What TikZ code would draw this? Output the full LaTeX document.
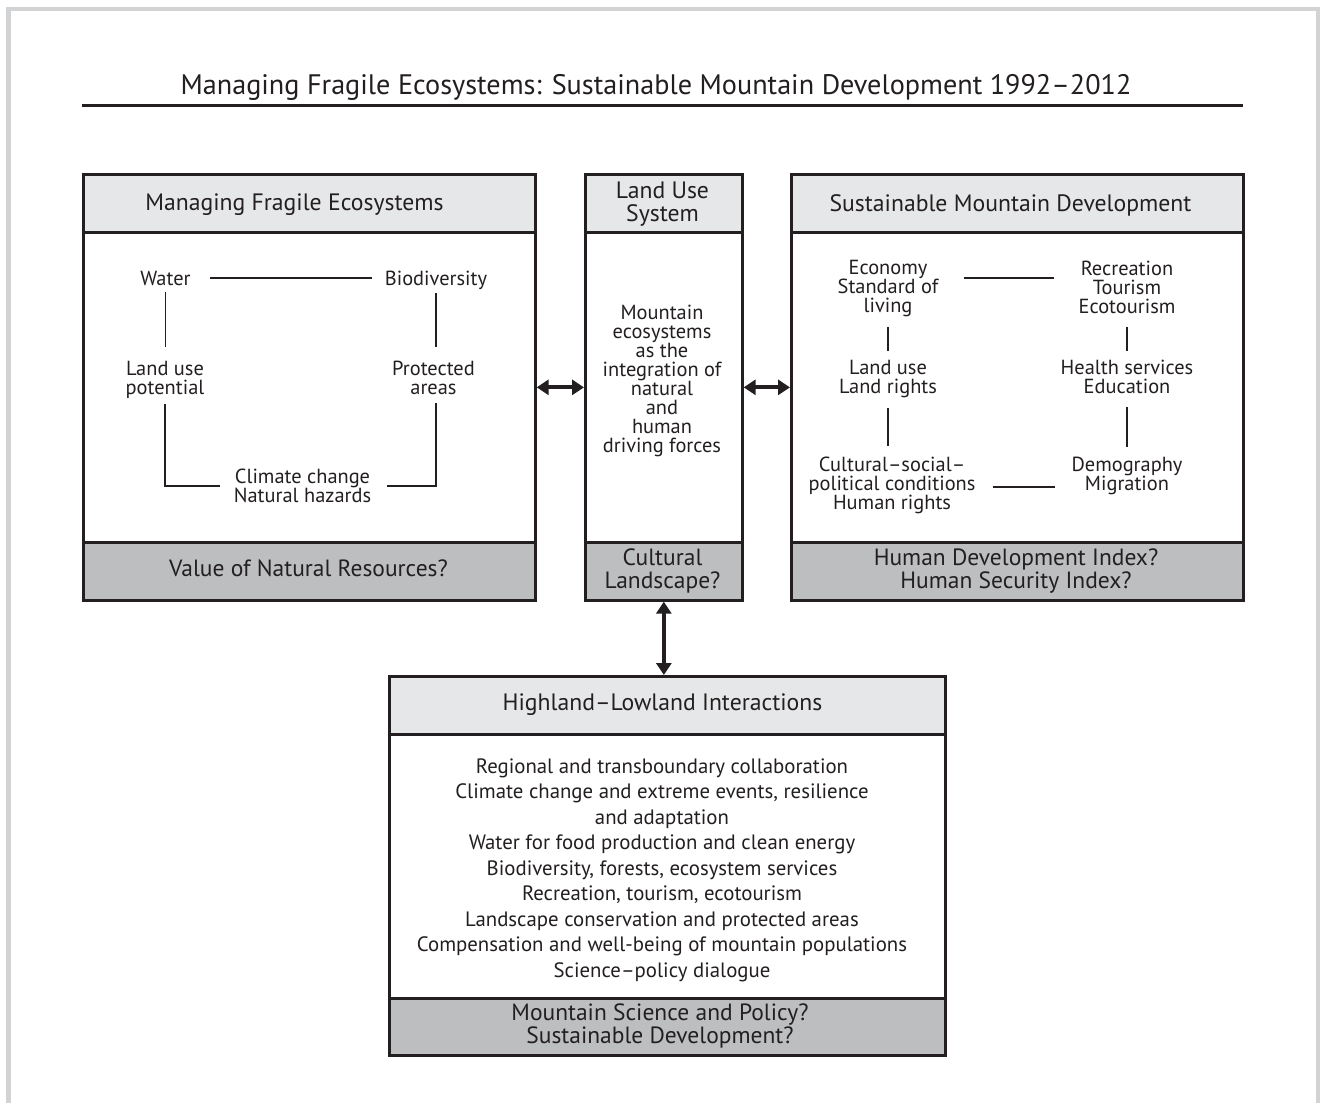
\documentclass[tikz,border=0pt]{standalone}
\usepackage{fontspec}
\setmainfont{PT Sans}
\usetikzlibrary{arrows.meta,calc}
\definecolor{ink}{HTML}{231F20}
\definecolor{hdrgray}{HTML}{E6E7E8}
\definecolor{ftrgray}{HTML}{BCBEC0}
\definecolor{framegray}{HTML}{D1D3D4}
\newcommand\mfTitle{\fontsize{28.2}{30}\selectfont}
\newcommand\mfHdr{\fontsize{23.7}{23.5}\selectfont}
\newcommand\mfFtr{\fontsize{23.5}{23.5}\selectfont}
\newcommand\mfTxt{\fontsize{20.4}{19}\selectfont}
\newcommand\mfList{\fontsize{20.8}{25.5}\selectfont}
\begin{document}
\begin{tikzpicture}[x=1pt,y=-1pt,
  panel/.style={draw=ink, line width=2.7pt, anchor=north west, inner sep=0pt},
  hdr/.style={panel, fill=hdrgray},
  ftr/.style={panel, fill=ftrgray},
  bodybox/.style={panel, fill=white},
  lbl/.style={text=ink, align=center, inner sep=0pt},
  htxt/.style={lbl, font=\mfHdr},
  ftxt/.style={lbl, font=\mfFtr},
  itxt/.style={lbl, font=\mfTxt},
  one/.style={text height=14pt, text depth=0pt},
  conn/.style={draw=ink, line width=1.3pt},
  dbl/.style={draw=ink, line width=3.8pt, {Triangle[length=12pt,width=15pt]}-{Triangle[length=12pt,width=15pt]}}
]
\useasboundingbox (0,0) rectangle (1320,1103);
\fill[white] (0,0) rectangle (1320,1103);
% outer frame
\draw[framegray, line width=4.5pt] (8.5,1200) -- (8.5,9) -- (1318,9) -- (1318,1200);

% title
\node[lbl, font=\mfTitle] (title) at (656,87) {Managing Fragile Ecosystems: Sustainable Mountain Development 1992–2012};
\draw[ink, line width=3.2pt] (82,105.5) -- (1243,105.5);

% left panel
\node[bodybox, minimum width=452pt, minimum height=310pt] (lbody) at (82,231) {};
\node[hdr, minimum width=452pt, minimum height=58pt] (lhead) at (82,173) {};
\node[ftr, minimum width=452pt, minimum height=58pt] (lfoot) at (82,541) {};
\node[htxt] (lhtext) at (294.5,205) {Managing Fragile Ecosystems};
\node[ftxt] (lftext) at (308.5,568) {Value of Natural Resources?};

% middle panel
\node[bodybox, minimum width=157pt, minimum height=310pt] (mbody) at (584,231) {};
\node[hdr, minimum width=157pt, minimum height=58pt] (mhead) at (584,173) {};
\node[ftr, minimum width=157pt, minimum height=58pt] (mfoot) at (584,541) {};
\node[htxt] (mhtext) at (662.5,204) {Land Use\\System};
\node[ftxt] (mftext) at (662.5,571) {Cultural\\Landscape?};
\node[itxt] (mtext) at (662,381) {Mountain\\ecosystems\\as the\\integration of\\natural\\and\\human\\driving forces};

% right panel
\node[bodybox, minimum width=452pt, minimum height=310pt] (rbody) at (790,231) {};
\node[hdr, minimum width=452pt, minimum height=58pt] (rhead) at (790,173) {};
\node[ftr, minimum width=452pt, minimum height=58pt] (rfoot) at (790,541) {};
\node[htxt] (rhtext) at (1010.5,205) {Sustainable Mountain Development};
\node[ftxt] (rftext) at (1016,571) {Human Development Index?\\Human Security Index?};

% bottom panel
\node[bodybox, minimum width=556pt, minimum height=264pt] (bbody) at (388,733) {};
\node[hdr, minimum width=556pt, minimum height=58pt] (bhead) at (388,675) {};
\node[ftr, minimum width=556pt, minimum height=57pt] (bfoot) at (388,997) {};
\node[htxt] (bhtext) at (662.5,705) {Highland–Lowland Interactions};
\node[ftxt] (bftext) at (660,1026) {Mountain Science and Policy?\\Sustainable Development?};
\node[lbl, font=\mfList] (blist) at (662,870) {Regional and transboundary collaboration\\Climate change and extreme events, resilience\\and adaptation\\Water for food production and clean energy\\Biodiversity, forests, ecosystem services\\Recreation, tourism, ecotourism\\Landscape conservation and protected areas\\Compensation and well-being of mountain populations\\Science–policy dialogue};

% left panel contents
\node[itxt, one] (water) at (165.5,278) {Water};
\node[itxt, one] (bio) at (436,278) {Biodiversity};
\node[itxt] (lup) at (165,380) {Land use\\potential};
\node[itxt] (pa) at (433.5,378) {Protected\\areas};
\node[itxt] (cc) at (302.5,486) {Climate change\\Natural hazards};

\draw[conn, shorten <=19pt, shorten >=13pt] (water.east) -- (bio.west);
\draw[conn, shorten <=7pt, shorten >=14pt] (water.south) -- (water.south |- lup.north);
\draw[conn, shorten <=8pt, shorten >=14pt] (bio.south) -- (bio.south |- pa.north);
\draw[conn, shorten <=5pt, shorten >=14pt] (lup.south) |- (cc.west);
\draw[conn, shorten <=8pt, shorten >=16pt] ([xshift=2.5pt]pa.south) |- (cc.east);

% right panel contents
\node[itxt] (eco) at (888,289) {Economy\\Standard of\\living};
\node[itxt] (rec) at (1127,287) {Recreation\\Tourism\\Ecotourism};
\node[itxt] (lr) at (888,379) {Land use\\Land rights};
\node[itxt] (hs) at (1127,377) {Health services\\Education};
\node[itxt] (cul) at (892,485) {Cultural–social–\\political conditions\\Human rights};
\node[itxt] (dem) at (1127,476) {Demography\\Migration};

\draw[conn, shorten <=25pt, shorten >=24pt] ([yshift=11pt]eco.east) -- ([yshift=11pt]eco.east -| rec.west);
\draw[conn, shorten <=9pt, shorten >=9pt] (eco.south) -- (eco.south |- lr.north);
\draw[conn, shorten <=10pt, shorten >=10pt] (lr.south) -- (lr.south |- cul.north);
\draw[conn, shorten <=13pt, shorten >=9pt] (rec.south) -- (rec.south |- hs.north);
\draw[conn, shorten <=13pt, shorten >=10pt] (hs.south) -- (hs.south |- dem.north);
\draw[conn, shorten <=17pt, shorten >=16pt] ([yshift=-2pt]cul.east) -- ([yshift=-2pt]cul.east -| dem.west);

% arrows between panels
\draw[dbl] (lbody.east) -- (mbody.west);
\draw[dbl] (mbody.east) -- (rbody.west);
\draw[dbl] (mfoot.south) -- (mfoot.south |- bhead.north);
\end{tikzpicture}
\end{document}
